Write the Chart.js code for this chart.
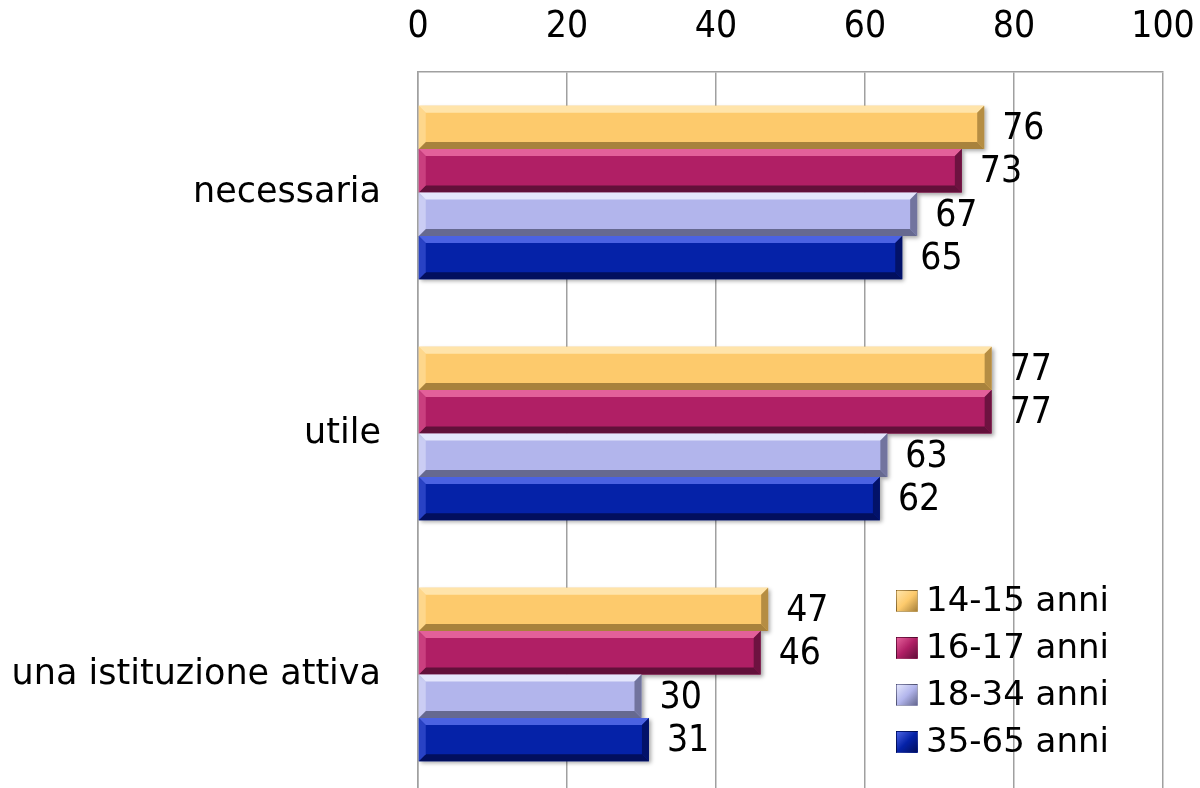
<!DOCTYPE html>
<html>
<head>
<meta charset="utf-8">
<script src="https://cdn.jsdelivr.net/npm/chart.js@4.4.1/dist/chart.umd.min.js"></script>
<style>
  html, body { margin: 0; padding: 0; background: #fff; overflow: hidden; }
  #wrap { position: relative; width: 1200px; height: 816px; }
  #legend { position: absolute; left: 896px; top: 576px; font-family: "DejaVu Sans", sans-serif; font-size: 34px; color: #000; }
  #legend div { height: 47px; line-height: 47px; white-space: nowrap; }
  #legend span.box { display: inline-block; width: 22px; height: 22px; margin-right: 8px; vertical-align: -1px; box-sizing: border-box; border: 1px solid rgba(0,0,0,0.25); }
</style>
</head>
<body>
<div id="wrap">
  <canvas id="chart" width="1200" height="816"></canvas>
  <div id="legend"></div>
</div>
<script>
const categories = ["necessaria", "utile", "una istituzione attiva"];
const seriesNames = ["14-15 anni", "16-17 anni", "18-34 anni", "35-65 anni"];
const age1415 = [76, 77, 47];
const age1617 = [73, 77, 46];
const age1834 = [67, 63, 30];
const age3565 = [65, 62, 31];
const xTicks = [0, 20, 40, 60, 80, 100];

const colors = [
  { base: "#FDCA6C", light: "#FFE4AA", dark: "#A8823C" },
  { base: "#B01F65", light: "#E3609A", dark: "#62103A" },
  { base: "#B2B5EC", light: "#E4E6FC", dark: "#666990" },
  { base: "#0522A8", light: "#4B62E2", dark: "#020F5E" }
];
const seriesData = [age1415, age1617, age1834, age3565];
const FONT = "'DejaVu Sans', sans-serif";
const NUMFONT = "'Liberation Sans Narrow', 'DejaVu Sans Condensed', 'DejaVu Sans', sans-serif";

// bevel look + value labels
const bevelPlugin = {
  id: "bevel",
  beforeDatasetsDraw(chart) {
    const ctx = chart.ctx;
    ctx.save();
    ctx.shadowColor = "rgba(0,0,0,0.35)";
    ctx.shadowBlur = 4;
    ctx.shadowOffsetX = 2;
    ctx.shadowOffsetY = 2;
  },
  afterDatasetsDraw(chart) {
    const ctx = chart.ctx;
    ctx.restore();
    chart.data.datasets.forEach((ds, di) => {
      const meta = chart.getDatasetMeta(di);
      const c = colors[di];
      meta.data.forEach((el, i) => {
        const p = el.getProps(["x", "y", "base", "height"], true);
        const l = p.base, r = p.x, t = p.y - p.height / 2, b = p.y + p.height / 2;
        const bv = 7;
        ctx.save();
        // top
        ctx.fillStyle = c.light;
        ctx.beginPath();
        ctx.moveTo(l, t); ctx.lineTo(r, t); ctx.lineTo(r - bv, t + bv); ctx.lineTo(l + bv, t + bv); ctx.closePath(); ctx.fill();
        // bottom
        ctx.fillStyle = c.dark;
        ctx.beginPath();
        ctx.moveTo(l, b); ctx.lineTo(r, b); ctx.lineTo(r - bv, b - bv); ctx.lineTo(l + bv, b - bv); ctx.closePath(); ctx.fill();
        // right
        ctx.globalAlpha = 0.85;
        ctx.beginPath();
        ctx.moveTo(r, t); ctx.lineTo(r, b); ctx.lineTo(r - bv, b - bv); ctx.lineTo(r - bv, t + bv); ctx.closePath(); ctx.fill();
        // left
        ctx.globalAlpha = 0.5;
        ctx.fillStyle = c.light;
        ctx.beginPath();
        ctx.moveTo(l, t); ctx.lineTo(l, b); ctx.lineTo(l + bv, b - bv); ctx.lineTo(l + bv, t + bv); ctx.closePath(); ctx.fill();
        ctx.restore();

        ctx.save();
        ctx.fillStyle = "#000";
        ctx.font = "37px " + NUMFONT;
        ctx.textAlign = "left";
        ctx.textBaseline = "middle";
        ctx.fillText(String(ds.data[i]), r + 18, p.y + 2);
        ctx.restore();
      });
    });
  }
};

new Chart(document.getElementById("chart"), {
  type: "bar",
  data: {
    labels: categories,
    datasets: seriesNames.map((name, k) => ({
      label: name,
      data: seriesData[k],
      backgroundColor: colors[k].base,
      borderWidth: 0,
      barPercentage: 1,
      categoryPercentage: 0.72
    }))
  },
  options: {
    indexAxis: "y",
    responsive: false,
    animation: false,
    layout: { padding: { left: 0, right: 37, top: 0, bottom: 0 } },
    plugins: { legend: { display: false }, tooltip: { enabled: false } },
    scales: {
      x: {
        position: "top",
        min: 0,
        max: 100,
        afterBuildTicks(scale) { scale.ticks = xTicks.map(v => ({ value: v })); },
        afterFit(scale) { scale.height = 72; },
        grid: { color: "#A0A0A0", lineWidth: 1.5, drawTicks: true, tickLength: 22, tickColor: "rgba(0,0,0,0)" },
        border: { color: "#A0A0A0", width: 1.5 },
        ticks: { color: "#000", font: { family: NUMFONT, size: 37 }, padding: 0 }
      },
      y: {
        afterFit(scale) { scale.width = 418; },
        grid: { display: false, drawTicks: true, tickLength: 37 },
        border: { color: "#A0A0A0", width: 1.5 },
        ticks: { color: "#000", font: { family: FONT, size: 35 }, padding: 0 }
      }
    }
  },
  plugins: [bevelPlugin]
});

const legend = document.getElementById("legend");
seriesNames.forEach((name, k) => {
  const row = document.createElement("div");
  const box = document.createElement("span");
  box.className = "box";
  box.style.background = "linear-gradient(135deg," + colors[k].light + "," + colors[k].base + " 50%," + colors[k].dark + ")";
  row.appendChild(box);
  row.appendChild(document.createTextNode(name));
  legend.appendChild(row);
});
</script>
</body>
</html>
